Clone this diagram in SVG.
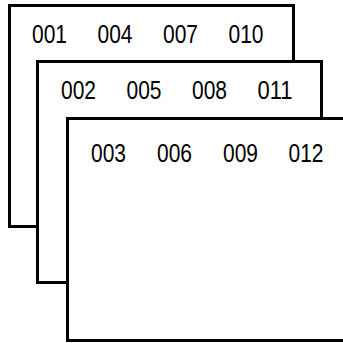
<svg xmlns="http://www.w3.org/2000/svg" width="343" height="343" viewBox="0 0 343 343">
<style>
.page{fill:#fff;stroke:#000;stroke-width:3}
.num{font-family:"Liberation Sans",Arial,sans-serif;font-size:25px;fill:#000}
</style>
<rect width="343" height="343" fill="#fff"/>
<g id="page1">
<rect class="page" x="9.5" y="5.5" width="284" height="221"/>
<text class="num" x="32" y="43" textLength="35" lengthAdjust="spacingAndGlyphs">001</text>
<text class="num" x="97.5" y="43" textLength="35" lengthAdjust="spacingAndGlyphs">004</text>
<text class="num" x="163" y="43" textLength="35" lengthAdjust="spacingAndGlyphs">007</text>
<text class="num" x="228.5" y="43" textLength="35" lengthAdjust="spacingAndGlyphs">010</text>
</g>
<g id="page2">
<rect class="page" x="37.5" y="61.5" width="284" height="221"/>
<text class="num" x="61" y="99" textLength="35" lengthAdjust="spacingAndGlyphs">002</text>
<text class="num" x="126.5" y="99" textLength="35" lengthAdjust="spacingAndGlyphs">005</text>
<text class="num" x="192" y="99" textLength="35" lengthAdjust="spacingAndGlyphs">008</text>
<text class="num" x="257.5" y="99" textLength="35" lengthAdjust="spacingAndGlyphs">011</text>
</g>
<g id="page3">
<rect class="page" x="67.5" y="118.5" width="290" height="222"/>
<text class="num" x="91" y="162" textLength="35" lengthAdjust="spacingAndGlyphs">003</text>
<text class="num" x="157" y="162" textLength="35" lengthAdjust="spacingAndGlyphs">006</text>
<text class="num" x="223" y="162" textLength="35" lengthAdjust="spacingAndGlyphs">009</text>
<text class="num" x="288.5" y="162" textLength="35" lengthAdjust="spacingAndGlyphs">012</text>
</g>
</svg>
